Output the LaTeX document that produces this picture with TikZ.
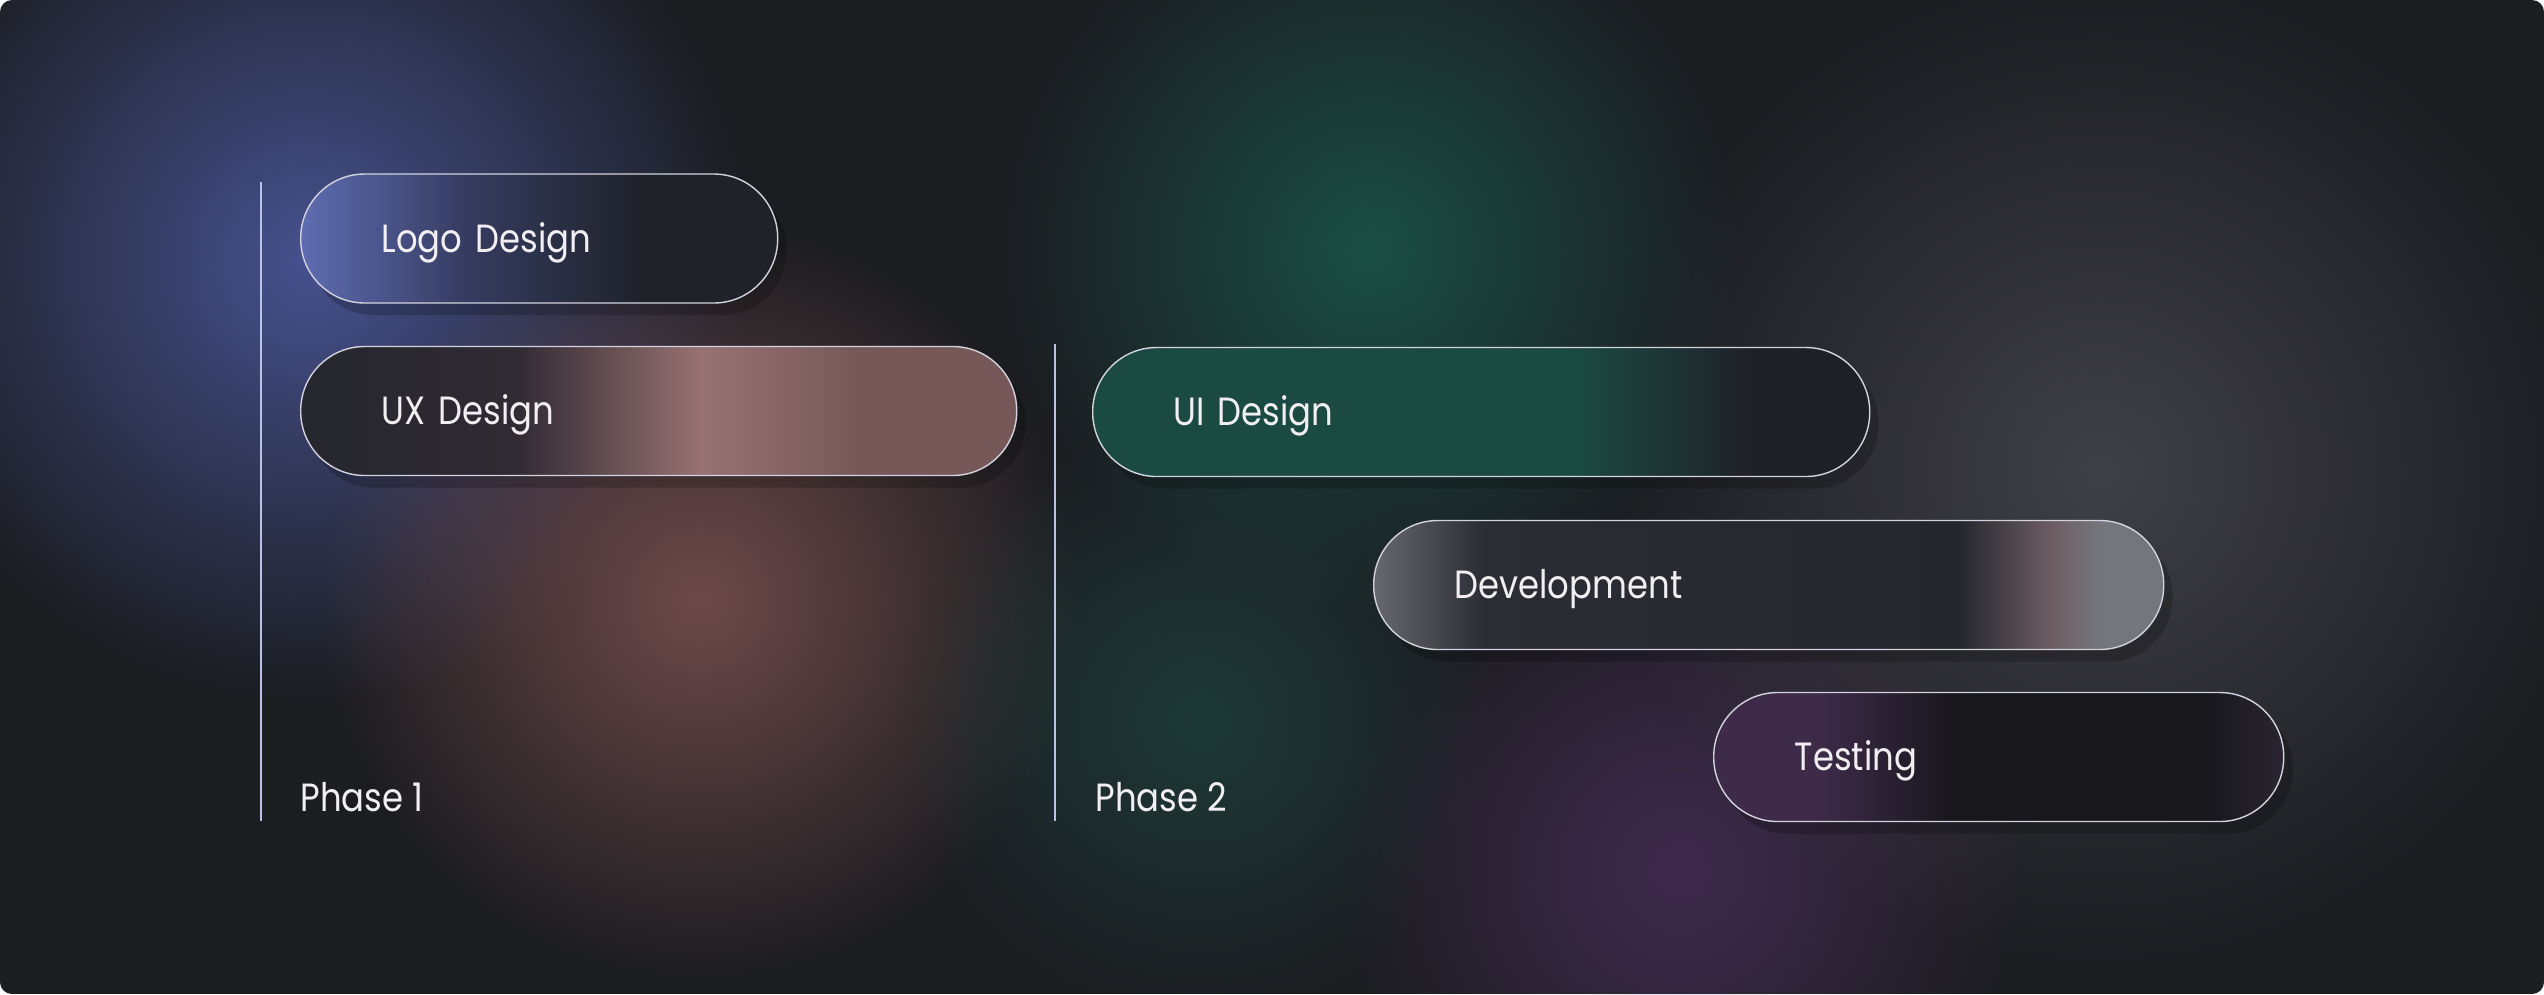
\documentclass[tikz,border=0pt]{standalone}
\usepackage{fontspec}
\setmainfont{Poppins}[FakeStretch=0.86]
\usetikzlibrary{positioning,fadings,shadows}

\definecolor{bgdark}{HTML}{1C1D21}
\definecolor{glowblue}{HTML}{46528F}
\definecolor{glowpink}{HTML}{6E4A4A}
\definecolor{glowteal}{HTML}{1A4F44}
\definecolor{glowpurple}{HTML}{402B4E}
\definecolor{glowgrey}{HTML}{404047}
\definecolor{glowgreen}{HTML}{1E3A37}
\definecolor{phaseline}{HTML}{BCC1E8}
\definecolor{pillline}{HTML}{D2D3DE}
\definecolor{pilltext}{HTML}{F2EFF2}
\definecolor{loA}{HTML}{5E6DB2}
\definecolor{loB}{HTML}{363C62}
\definecolor{loC}{HTML}{1F2229}
\definecolor{uxA}{HTML}{25262E}
\definecolor{uxB}{HTML}{302A33}
\definecolor{uxC}{HTML}{987272}
\definecolor{uxD}{HTML}{765859}
\definecolor{uiA}{HTML}{1B4A43}
\definecolor{uiB}{HTML}{1F1F26}
\definecolor{deA}{HTML}{66686E}
\definecolor{deB}{HTML}{2C2D34}
\definecolor{deC}{HTML}{25262D}
\definecolor{deE}{HTML}{6E5E64}
\definecolor{deD}{HTML}{74767C}
\definecolor{teA}{HTML}{3E2B4A}
\definecolor{teB}{HTML}{18171C}
\definecolor{teC}{HTML}{2A2530}

\tikzfading[name=glowfade, inner color=transparent!0, outer color=transparent!100]

\begin{document}
\begin{tikzpicture}[x=0.1mm,y=-0.1mm]
\tikzstyle{pill} = [
	shape=rectangle,
	rounded corners=6.4mm, %half the height
	draw=pillline,
	line width=0.4pt,
	minimum height=12.9mm,
	inner xsep=8.1mm,
	inner ysep=0pt,
	text height=2.75mm, %caps centred
	text depth=0pt,
	anchor=west,
	align=left,
	text=pilltext,
	font=\fontsize{11.2}{13}\selectfont,
	shade,
	drop shadow={shadow xshift=0.9mm, shadow yshift=-1.2mm, opacity=0.2, fill=black}
];
\tikzstyle{phase} = [
	anchor=west,
	inner sep=0pt,
	text=pilltext,
	font=\fontsize{11.2}{13}\selectfont
];
% the path is mapped onto 25bp..75bp of the shading
\pgfdeclarehorizontalshading{lo}{100bp}{color(0bp)=(loA); color(25bp)=(loA); color(42bp)=(loB); color(61bp)=(loC); color(100bp)=(loC)}
\pgfdeclarehorizontalshading{ux}{100bp}{color(0bp)=(uxA); color(25bp)=(uxA); color(40bp)=(uxB); color(53bp)=(uxC); color(64bp)=(uxD); color(100bp)=(uxD)}
\pgfdeclarehorizontalshading{ui}{100bp}{color(0bp)=(uiA); color(56bp)=(uiA); color(68bp)=(uiB); color(100bp)=(uiB)}
\pgfdeclarehorizontalshading{de}{100bp}{color(0bp)=(deA); color(25bp)=(deA); color(32bp)=(deB); color(62bp)=(deC); color(68bp)=(deE); color(71bp)=(deD); color(100bp)=(deD)}
\pgfdeclarehorizontalshading{te}{100bp}{color(0bp)=(teA); color(34bp)=(teA); color(46bp)=(teB); color(68bp)=(teB); color(75bp)=(teC); color(100bp)=(teC)}

%background
\fill[white] (0,0) rectangle (2544,994);
\begin{scope}
	\clip[rounded corners=1.2mm] (0,0) rectangle (2544,994);
	\fill[bgdark] (0,0) rectangle (2544,994);
	\fill[glowblue, path fading=glowfade] (310,260) circle (440);
	\fill[glowpink, path fading=glowfade] (700,600) circle (380);
	\fill[glowteal, path fading=glowfade] (1370,250) circle (370);
	\fill[glowgreen, path fading=glowfade] (1200,720) circle (300);
	\fill[glowpurple, path fading=glowfade] (1680,870) circle (340);
	\fill[glowgrey, path fading=glowfade] (2100,470) circle (500);
\end{scope}

%phase lines
\coordinate (L1a) at (261,182);
\coordinate (L1b) at (261,821);
\coordinate (L2a) at (1055,344);
\coordinate (L2b) at (1055,821);
\draw[phaseline, line width=0.5pt] (L1a) -- (L1b);
\draw[phaseline, line width=0.5pt] (L2a) -- (L2b);

%tasks
\node[pill, shading=lo, text width=31.5mm](Lo) at (300,238.5) {Logo Design};
\node[pill, shading=ux, text width=55.4mm](Ux) at (300,411) {UX Design};
\node[pill, shading=ui, text width=61.5mm](Ui) at (1092,412) {UI Design};
\node[pill, shading=de, text width=62.8mm](De) at (1373,585) {Development};
\node[pill, shading=te, text width=40.8mm](Te) at (1713,757) {Testing};

%phases
\node[phase](P1) at (300,797) {Phase 1};
\node[phase](P2) at (1095,797) {Phase 2};
\end{tikzpicture}
\end{document}
